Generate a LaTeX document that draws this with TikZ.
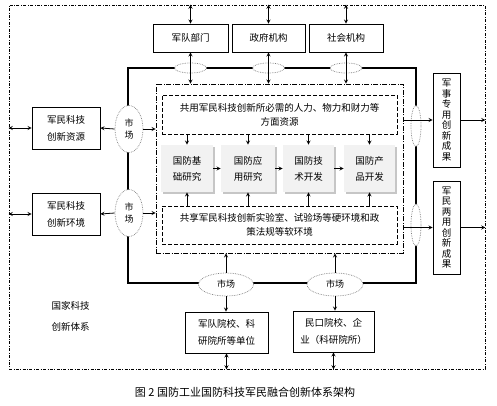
\documentclass[tikz,border=0pt]{standalone}
\usepackage{fontspec}
\setmainfont{Noto Sans CJK SC}
\usetikzlibrary{shapes.geometric,shadows}
\tikzset{
  box/.style={draw, line width=0.8pt, inner sep=0pt, align=center, font=\fontsize{9.5}{17}\selectfont},
  vbox/.style={box, minimum width=27pt, font=\fontsize{9.5}{10.5}\selectfont},
  gbox/.style={fill=gray!10, inner sep=0pt, align=center, minimum height=47pt, font=\fontsize{9.5}{16}\selectfont,
    drop shadow={shadow xshift=1.6pt, shadow yshift=-1.6pt, fill=gray!45, opacity=1}},
  dbox/.style={draw, dash pattern=on 4pt off 2pt, line width=0.8pt, inner sep=0pt, align=center,
    minimum width=235pt, font=\fontsize{9.5}{14}\selectfont},
  mkt/.style={ellipse, draw=gray, densely dotted, fill=white, inner sep=0pt, line width=0.7pt,
    align=center, font=\fontsize{9}{12}\selectfont},
  frame/.style={draw, inner sep=0pt, line width=0.6pt, dash pattern=on 3pt off 1.5pt on 0.8pt off 1.5pt},
}
\begin{document}
\begin{tikzpicture}[x=1pt, y=-1pt, >=stealth, line width=0.8pt]
  \useasboundingbox (0,0) rectangle (497,406);
  % frames
  \node[frame, minimum width=476pt, minimum height=364pt] (sys) at (247,187) {};
  \node[draw, line width=1.8pt, inner sep=0pt, minimum width=288pt, minimum height=215pt] (loop) at (272,175.5) {};
  \node[draw, inner sep=0pt, dash pattern=on 5pt off 1.5pt on 1pt off 1.5pt, minimum width=247pt, minimum height=169pt] (core) at (279.5,168.5) {};
  % top
  \node[box, minimum width=75pt, minimum height=28pt] (army) at (190.5,38) {军队部门};
  \node[box, minimum width=73pt, minimum height=28pt] (gov) at (268.5,38) {政府机构};
  \node[box, minimum width=74pt, minimum height=28pt] (soc) at (346,38) {社会机构};
  \foreach \n/\x in {ma/190.5, mb/268.5, mc/346}
    \node[mkt, minimum width=32pt, minimum height=10pt] (\n) at (\x,68) {};
  % left
  \node[box, minimum width=68pt, minimum height=42pt] (res) at (66,128) {军民科技\\创新资源};
  \node[box, minimum width=68pt, minimum height=42pt] (env) at (66,214) {军民科技\\创新环境};
  \node[mkt, minimum width=28pt, minimum height=47pt] (ml) at (129,129) {市\\场};
  \node[mkt, minimum width=28pt, minimum height=47pt] (mk) at (129,213) {市\\场};
  % core
  \node[dbox, minimum height=39pt] (share) at (279.5,114.5) {共用军民科技创新所必需的人力、物力和财力等\\方面资源};
  \node[gbox, minimum width=52pt] (b1) at (187,168.5) {国防基\\础研究};
  \node[gbox, minimum width=54pt] (b2) at (248,168.5) {国防应\\用研究};
  \node[gbox, minimum width=51pt] (b3) at (308.5,168.5) {国防技\\术开发};
  \node[gbox, minimum width=51pt] (b4) at (369.5,168.5) {国防产\\品开发};
  \node[dbox, minimum height=38pt] (lab) at (279.5,225) {共享军民科技创新实验室、试验场等硬环境和政\\策法规等软环境};
  % right
  \node[mkt, minimum width=10pt, minimum height=41pt] (mr) at (416,126) {};
  \node[mkt, minimum width=10pt, minimum height=42pt] (ms) at (416,225) {};
  \node[vbox, minimum height=94pt] (mil) at (446.5,120) {军\\事\\专\\用\\创\\新\\成\\果};
  \node[vbox, minimum height=93pt] (dual) at (446.5,227.5) {军\\民\\两\\用\\创\\新\\成\\果};
  % bottom
  \node[mkt, minimum width=55pt, minimum height=23pt] (mu) at (226,284.5) {市场};
  \node[mkt, minimum width=56pt, minimum height=23pt] (mv) at (335,284.5) {市场};
  \node[box, minimum width=83pt, minimum height=41pt] (acad) at (226.5,332.5) {军队院校、科\\研院所等单位};
  \node[box, minimum width=81pt, minimum height=41pt] (civ) at (333.5,331.5) {民口院校、企\\业（科研院所）};
  \node[anchor=west, align=left, font=\fontsize{9.5}{21}\selectfont] (nat) at (48,316.5) {国家科技\\创新体系};
  \node[font=\fontsize{11}{13}\selectfont] (cap) at (245,392) {图 2 国防工业国防科技军民融合创新体系架构};
  % connectors
  \foreach \n in {army, gov, soc} {
    \draw[<->] (\n.north |- sys.north) -- (\n.north);
    \draw[<->] (\n.south) -- (\n.south |- core.north);
  }
  \foreach \n/\m in {res/ml, env/mk} {
    \draw[<->] (\n.west -| sys.west) -- (\n.west);
    \draw[->] (\m.west) -- (\n.east);
    \draw[->] (\m.east) -- (\m.east -| core.west);
  }
  \foreach \n in {b1, b2, b3, b4} {
    \draw[->] (\n.north |- share.south) -- (\n.north);
    \draw[->] (\n.south |- lab.north) -- (\n.south);
  }
  \draw[->] (b1) -- (b2);
  \draw[->] (b2) -- (b3);
  \draw[->] (b3) -- (b4);
  \foreach \n in {mil, dual} {
    \draw[->] (\n.west -| core.east) -- (\n.west);
    \draw[->] (\n.east) -- (\n.east -| sys.east);
  }
  \foreach \m/\n in {mu/acad, mv/civ} {
    \draw[->] (\m.north) -- (\m.north |- core.south);
    \draw[->] (\m.south) -- (\m.south |- \n.north);
    \draw[<->] (\n.south) -- (\n.south |- sys.south);
  }
\end{tikzpicture}
\end{document}
